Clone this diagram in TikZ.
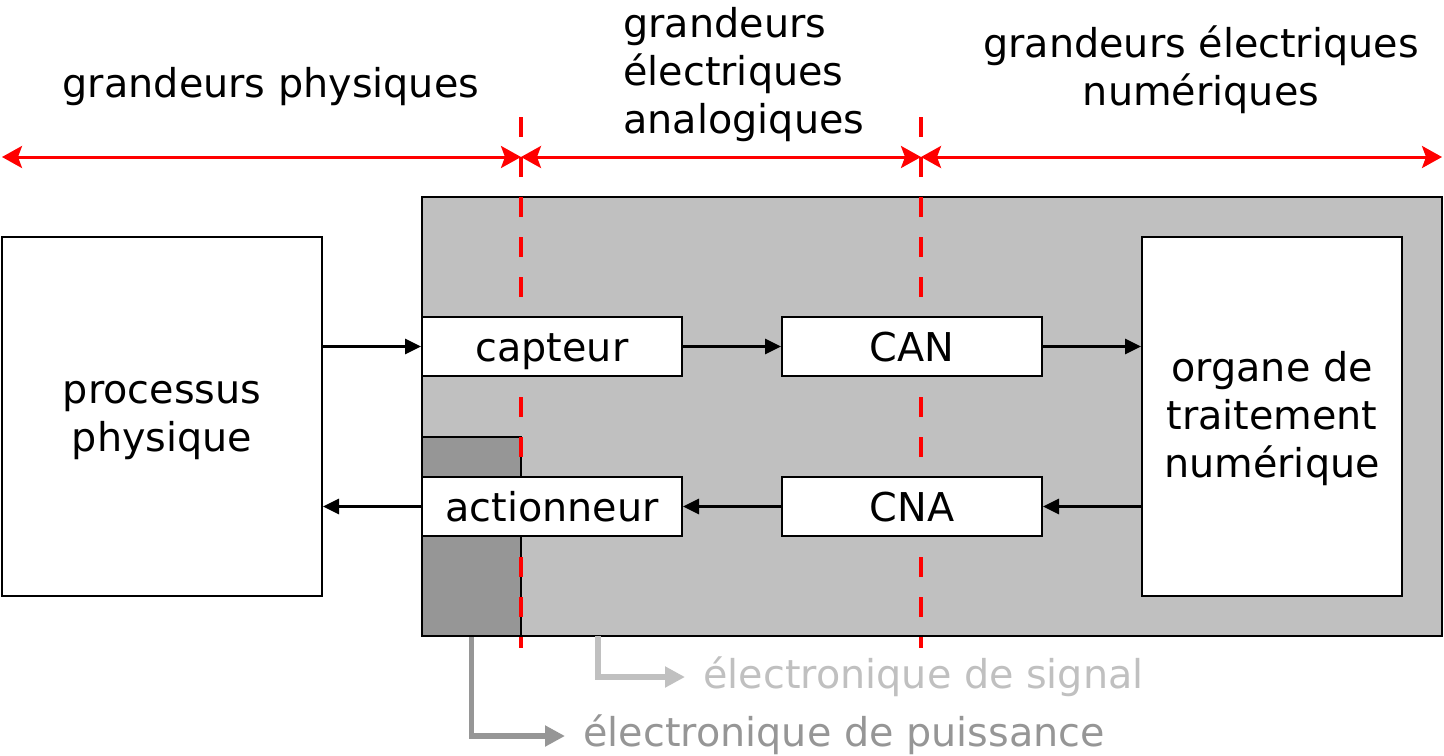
\documentclass[tikz,border=0pt]{standalone}
\usepackage{fontspec}
\setmainfont{DejaVu Sans}
\usetikzlibrary{arrows.meta}
\definecolor{lightgrey}{RGB}{192,192,192}
\definecolor{darkgrey}{RGB}{150,150,150}
\begin{document}
\begin{tikzpicture}[x=0.5pt,y=-0.5pt,
  every node/.style={font=\fontsize{19.85pt}{24pt}\selectfont, inner sep=0pt},
  box/.style={draw=black, line width=1pt, fill=white, align=center, minimum width=130pt, minimum height=29.5pt},
  onebox/.style={box, text height=14.5pt, text depth=0pt},
  redarrow/.style={red, line width=1.5pt, {Stealth[length=10pt,width=11pt,inset=2pt]}-{Stealth[length=10pt,width=11pt,inset=2pt]}},
  reddash/.style={red, line width=1.75pt, dash pattern=on 10pt off 10pt},
  sigarrow/.style={-{Triangle[length=8pt,width=7.5pt]}, line width=1.5pt},
  greyarrow/.style={line width=2.75pt, -{Triangle[length=10pt,width=10pt]}}]
\useasboundingbox (0,0) rectangle (1444,755);
% system background
\node[draw=black, line width=1pt, fill=lightgrey, minimum width=510pt, minimum height=219.5pt] (sys) at (932,416.5) {};
\node[draw=black, line width=1pt, fill=darkgrey, minimum width=49.5pt, minimum height=99.5pt] (pow) at (471.5,536.5) {};
% dashed separators
\coordinate (d1t) at (521,117);
\coordinate (d1b) at (521,648);
\coordinate (d2t) at (921,117);
\coordinate (d2b) at (921,648);
\draw[reddash] (d1t) -- (d1b);
\draw[reddash] (d2t) -- (d2b);
% boxes
\node[box, minimum width=160pt, minimum height=179.5pt, text depth=-3.3pt] (proc) at (162,416.5) {processus\\physique};
\node[box, minimum height=179.5pt, text depth=1.7pt] (org) at (1272,416.5) {organe de\\traitement\\numérique};
\node[onebox] (capt) at (552,346.5) {capteur};
\node[onebox] (can) at (912,346.5) {CAN};
\node[onebox] (act) at (552,506.5) {actionneur};
\node[onebox] (cna) at (912,506.5) {CNA};
% signal arrows
\draw[sigarrow] (capt.west -| proc.east) -- (capt.west);
\draw[sigarrow] (capt) -- (can);
\draw[sigarrow] (can) -- (can.east -| org.west);
\draw[sigarrow] (cna.east -| org.west) -- (cna);
\draw[sigarrow] (cna) -- (act);
\draw[sigarrow] (act) -- (act.west -| proc.east);
% domain arrows
\coordinate (ra) at (2,157);
\coordinate (rb) at (521,157);
\coordinate (rc) at (921,157);
\coordinate (rd) at (1442,157);
\draw[redarrow] (ra) -- (rb);
\draw[redarrow] (rb) -- (rc);
\draw[redarrow] (rc) -- (rd);
% domain labels
\node[anchor=base] (gp) at (271,97) {grandeurs physiques};
\node[anchor=base west, align=left] (gea) at (623,133) {grandeurs\\électriques\\analogiques};
\node[anchor=base, align=center] (gen) at (1201,105) {grandeurs électriques\\numériques};
% electronics labels
\node[anchor=base west, text=lightgrey] (lsig) at (703,688) {électronique de signal};
\node[anchor=base west, text=darkgrey] (lpow) at (583,746) {électronique de puissance};
\coordinate (sigs) at (598,636);
\coordinate (sige) at (685,677);
\coordinate (powe) at (565,736);
\draw[greyarrow, lightgrey] (sigs) |- (sige);
\draw[greyarrow, darkgrey] (pow.south) |- (powe);
\end{tikzpicture}
\end{document}
